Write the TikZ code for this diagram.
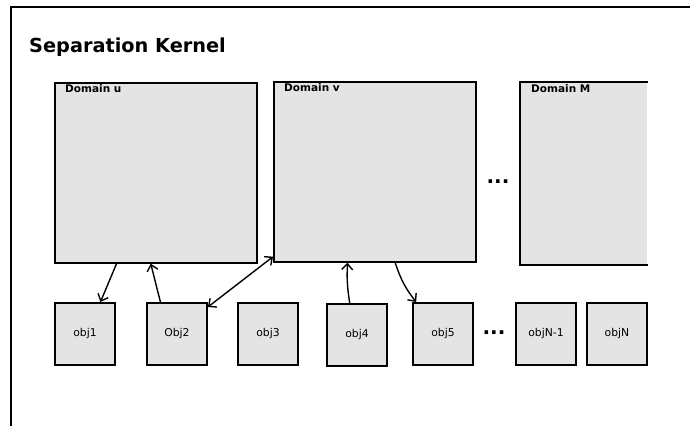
\documentclass[tikz,border=0pt]{standalone}
\usepackage{fontspec}
\setmainfont{DejaVu Sans}
\usetikzlibrary{calc,arrows.meta}
\definecolor{boxgray}{HTML}{E4E4E4}
\tikzset{
  domainbox/.style={draw=black, fill=boxgray, line width=1.7pt, anchor=north west, minimum width=202pt, minimum height=180pt, inner sep=0pt},
  objbox/.style={draw=black, fill=boxgray, line width=1.9pt, anchor=north west, minimum width=60pt, minimum height=62pt, inner sep=0pt, font=\fontsize{10.8}{12}\selectfont},
  domlabel/.style={anchor=north west, inner sep=0pt, font=\fontsize{10.5}{12}\bfseries\selectfont},
  tip/.tip={Straight Barb[length=6pt,width=11pt,line width=1.4pt]},
  conn/.style={line width=1.4pt, -tip},
  dots/.style={font=\fontsize{20}{20}\bfseries\selectfont, inner sep=0pt}
}
\begin{document}
\begin{tikzpicture}[x=1pt,y=-1pt]
\useasboundingbox (0,0) rectangle (690,426);
% frame
\coordinate (fbl) at (11,426);
\coordinate (ftl) at (11,7);
\coordinate (ftr) at (690,7);
\draw[line width=1.5pt] (fbl) -- (ftl) -- (ftr);
\node[anchor=base west, inner sep=0pt, font=\fontsize{19.3}{22}\bfseries\selectfont] (title) at (29,52) {Separation Kernel};
% domains
\node[domainbox] (du) at (54,82) {};
\node[domainbox] (dv) at (273,81) {};
\node[domainbox, draw=none, minimum width=126pt, minimum height=181pt] (dm) at (520,82) {};
\draw[line width=1.7pt] (dm.north east) -- (dm.north west) -- (dm.south west) -- (dm.south east);
\node[domlabel] (lu) at (65,84) {Domain u};
\node[domlabel] (lv) at (284,83) {Domain v};
\node[domlabel] (lm) at (531,84) {Domain M};
\node[dots] (d1) at (498,182) {...};
% objects
\node[objbox] (o1) at (54,302) {obj1};
\node[objbox] (o2) at (146,302) {Obj2};
\node[objbox] (o3) at (237,302) {obj3};
\node[objbox] (o4) at (326,303) {obj4};
\node[objbox] (o5) at (412,302) {obj5};
\node[objbox] (on1) at (515,302) {objN-1};
\node[objbox] (on) at (586,302) {objN};
\node[dots] (d2) at (494,333) {...};
% connectors
\draw[conn] ($(du.south west)!0.307!(du.south east)$) -- ($(o1.north west)!0.75!(o1.north east)$);
\draw[conn] ($(o2.north west)!0.233!(o2.north east)$) -- ($(du.south west)!0.475!(du.south east)$);
\draw[line width=1.4pt, tip-tip] ([yshift=-5pt]o2.north east) -- ([yshift=6pt]dv.south west);
\draw[conn] ($(o4.north west)!0.383!(o4.north east)$) to[bend left=6] ($(dv.south west)!0.366!(dv.south east)$);
\draw[conn] ($(dv.south west)!0.6!(dv.south east)$) to[bend right=10] ($(o5.north west)!0.067!(o5.north east)$);
\end{tikzpicture}
\end{document}
